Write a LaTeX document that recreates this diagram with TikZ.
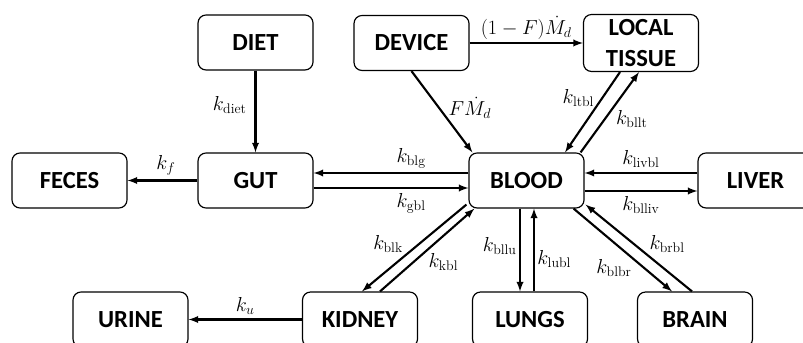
\documentclass[tikz,border=0pt]{standalone}
\usepackage{amsmath,amssymb}
\usepackage{fontspec}
\setsansfont{Carlito}
\usetikzlibrary{calc}

\tikzset{
  organ/.style={draw, rounded corners=2.4mm, line width=1pt, minimum width=34.5mm,
    minimum height=16.5mm, align=center, font=\sffamily\bfseries\fontsize{21}{27}\selectfont},
  flow/.style={-latex, line width=1.8pt},
  rate/.style={font=\fontsize{17}{19}\selectfont}
}

\begin{document}
\begin{tikzpicture}[x=0.3mm, y=-0.3mm]
  \clip (0,0) rectangle (803,343);
  % compartments
  \node[organ] (diet)   at (255.5,42.5) {DIET};
  \node[organ] (device) at (411.5,43)   {DEVICE};
  \node[organ, inner ysep=1pt, minimum height=17.1mm] (tissue) at (641,43) {LOCAL\\TISSUE};
  \node[organ] (feces)  at (69.5,180.5)  {FECES};
  \node[organ] (gut)    at (255.5,180.5) {GUT};
  \node[organ] (blood)  at (526.5,180.5) {BLOOD};
  \node[organ] (liver)  at (755.5,180.5) {LIVER};
  \node[organ] (urine)  at (130.5,319.5) {URINE};
  \node[organ] (kidney) at (360,319.5)   {KIDNEY};
  \node[organ] (lungs)  at (530,319.5)   {LUNGS};
  \node[organ] (brain)  at (695,319.5)   {BRAIN};
  % intake
  \draw[flow] (diet) -- node[rate, pos=0.42, left=1.2mm] {$k_{\mathrm{diet}}$} (gut);
  \draw[flow] (device) -- node[rate, above, inner sep=2pt] {$(1-F)\dot{M}_d$} (tissue);
  \draw[flow] (device.south) -- node[rate, pos=0.45, right=1.4mm] {$F\dot{M}_d$}
    ($(blood.north west)+(4,0)$);
  % local tissue
  \draw[flow] ($(tissue.south)+(-21,0)$) -- node[rate, pos=0.32, left=1mm] {$k_{\mathrm{ltbl}}$}
    ($(blood.north)+(38.5,0)$);
  \draw[flow] ($(blood.north east)+(-4,0)$) -- node[rate, pos=0.41, right=2mm] {$k_{\mathrm{bllt}}$}
    ($(tissue.south)+(-2,0)$);
  % gut and liver
  \draw[flow] ($(blood.west)+(0,-7.5)$) -- node[rate, pos=0.37, above] {$k_{\mathrm{blg}}$}
    ($(gut.east)+(0,-7.5)$);
  \draw[flow] ($(gut.east)+(0,7.5)$) -- node[rate, pos=0.63, below] {$k_{\mathrm{gbl}}$}
    ($(blood.west)+(0,7.5)$);
  \draw[flow] (gut) -- node[rate, pos=0.45, above] {$k_f$} (feces);
  \draw[flow] ($(liver.west)+(0,-7.5)$) -- node[rate, above] {$k_{\mathrm{livbl}}$}
    ($(blood.east)+(0,-7.5)$);
  \draw[flow] ($(blood.east)+(0,10.5)$) -- node[rate, below] {$k_{\mathrm{blliv}}$}
    ($(liver.west)+(0,10.5)$);
  % kidney
  \draw[flow] ($(blood.south west)+(-2,-4)$) -- node[rate, pos=0.45, left=3.5mm] {$k_{\mathrm{blk}}$}
    ($(kidney.north)+(2,0)$);
  \draw[flow] ($(kidney.north)+(20,0)$) -- node[rate, pos=0.35, right=3.2mm] {$k_{\mathrm{kbl}}$}
    ($(blood.south west)+(6,0)$);
  \draw[flow] (kidney) -- node[rate, above] {$k_u$} (urine);
  % lungs
  \draw[flow] ($(blood.south)+(-6.5,0)$) -- node[rate, pos=0.45, left, inner sep=2pt] {$k_{\mathrm{bllu}}$}
    ($(lungs.north)+(-10,0)$);
  \draw[flow] ($(lungs.north)+(4,0)$) -- node[rate, pos=0.39, right, inner sep=2pt] {$k_{\mathrm{lubl}}$}
    ($(blood.south)+(7.5,0)$);
  % brain
  \draw[flow] ($(blood.south east)+(-11,0)$) -- node[rate, pos=0.6, anchor=north east, inner sep=0pt] {$k_{\mathrm{blbr}}$}
    ($(brain.north)+(-23,0)$);
  \draw[flow] ($(brain.north)+(-3,0)$) -- node[rate, pos=0.42, anchor=south west, inner sep=1pt] {$k_{\mathrm{brbl}}$}
    ($(blood.south east)+(1,-4)$);
\end{tikzpicture}
\end{document}
